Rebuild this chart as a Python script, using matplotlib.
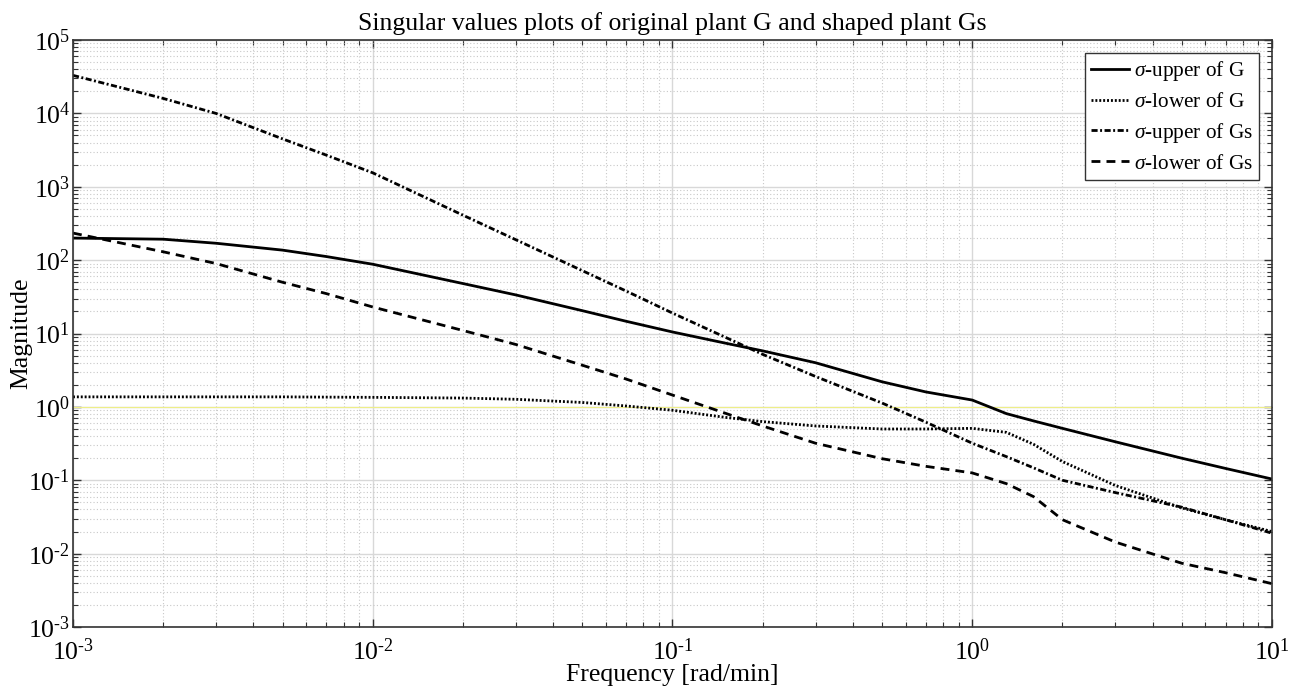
import matplotlib
matplotlib.use("Agg")
import matplotlib.pyplot as plt
import matplotlib.ticker as mticker
import numpy as np

plt.rcParams['font.family'] = ['Liberation Serif', 'DejaVu Serif']
plt.rcParams['mathtext.fontset'] = 'custom'
plt.rcParams['mathtext.rm'] = 'Liberation Serif'
plt.rcParams['mathtext.it'] = 'Liberation Serif:italic'

# frequency grid [rad/min]
freq = [1e-3, 2e-3, 3e-3, 5e-3, 7e-3, 1e-2, 2e-2, 3e-2, 5e-2, 7e-2,
        0.1, 0.15, 0.2, 0.3, 0.5, 0.7, 1.0, 1.3, 1.6, 2.0, 3.0, 5.0, 7.0, 10.0]

# singular values
sv_upper_G = [200, 193, 170, 137, 112, 88, 48, 33.6, 20.5, 14.7,
              10.5, 7.4, 5.8, 4.0, 2.2, 1.6, 1.24, 0.81, 0.645, 0.51,
              0.335, 0.2, 0.145, 0.104]
sv_lower_G = [1.37, 1.37, 1.37, 1.37, 1.36, 1.35, 1.32, 1.27, 1.15, 1.03,
              0.9, 0.72, 0.63, 0.55, 0.5, 0.5, 0.51, 0.45, 0.31, 0.18,
              0.085, 0.042, 0.029, 0.02]
sv_upper_Gs = [33000, 16000, 10000, 4500, 2700, 1550, 410, 190, 72, 38,
               19, 8.9, 5.2, 2.6, 1.13, 0.62, 0.32, 0.21, 0.148, 0.1,
               0.068, 0.043, 0.029, 0.019]
sv_lower_Gs = [234, 130, 90, 50, 35, 23, 11, 7.1, 3.7, 2.4,
               1.45, 0.82, 0.55, 0.32, 0.197, 0.155, 0.126, 0.09, 0.06, 0.029,
               0.0144, 0.0074, 0.0055, 0.0039]


def pow10_label(v, pos):
    # MATLAB style exponent with a plain hyphen
    k = int(round(np.log10(v)))
    return r'$10^{\text{%d}}$' % k


fig = plt.figure(figsize=(12.92, 6.95), dpi=100)
ax = fig.add_axes([0.0565, 0.0978, 0.928, 0.8446])

lw = 2.0
ax.loglog(freq, sv_upper_G, color='black', lw=lw, linestyle='-', label=r'$\sigma$-upper of G')
ax.loglog(freq, sv_lower_G, color='black', lw=lw, linestyle=(0, (0.7, 0.7)), label=r'$\sigma$-lower of G')
ax.loglog(freq, sv_upper_Gs, color='black', lw=lw, linestyle=(0, (2.2, 0.9, 0.7, 0.9)), label=r'$\sigma$-upper of Gs')
ax.loglog(freq, sv_lower_Gs, color='black', lw=lw, linestyle=(0, (3.2, 2.2)), label=r'$\sigma$-lower of Gs')

# faint reference line at unity
ax.axhline(1.0, color='#eeee88', lw=0.8, zorder=1)

ax.set_xlim(1e-3, 1e1)
ax.set_ylim(1e-3, 1e5)
ax.yaxis.set_major_locator(mticker.LogLocator(base=10, numticks=20))
ax.yaxis.set_minor_locator(mticker.LogLocator(base=10, subs=np.arange(2, 10), numticks=20))
ax.xaxis.set_minor_formatter(mticker.NullFormatter())
ax.yaxis.set_minor_formatter(mticker.NullFormatter())
ax.xaxis.set_major_formatter(mticker.FuncFormatter(pow10_label))
ax.yaxis.set_major_formatter(mticker.FuncFormatter(pow10_label))

ax.grid(True, which='major', color='#d8d8d8', linestyle='-', lw=1.0)
ax.grid(True, which='minor', color='#c8c8c8', linestyle=(0, (1, 2)), lw=0.8)
ax.set_axisbelow(True)

ax.tick_params(which='both', direction='in', top=True, right=True, labelsize=18.5, color='#333333')
ax.tick_params(which='major', length=6, width=1)
ax.tick_params(which='minor', length=3.5, width=0.8)
ax.tick_params(axis='y', pad=2)
ax.tick_params(axis='x', pad=8.5)
for s in ax.spines.values():
    s.set_color('#333333')
    s.set_linewidth(1.2)

ax.set_title('Singular values plots of original plant G and shaped plant Gs', fontsize=18.5, pad=7)
ax.set_xlabel('Frequency [rad/min]', fontsize=18.5, labelpad=-1)
ax.set_ylabel('Magnitude', fontsize=18.5, labelpad=-3)

leg = ax.legend(loc='upper right', fontsize=15.3, fancybox=False, framealpha=1,
                edgecolor='#333333', handlelength=1.8, handletextpad=0.2,
                borderaxespad=0.6, labelspacing=0.42, borderpad=0.3)
leg.get_frame().set_linewidth(1.0)

fig.savefig('out.png', dpi=100)
